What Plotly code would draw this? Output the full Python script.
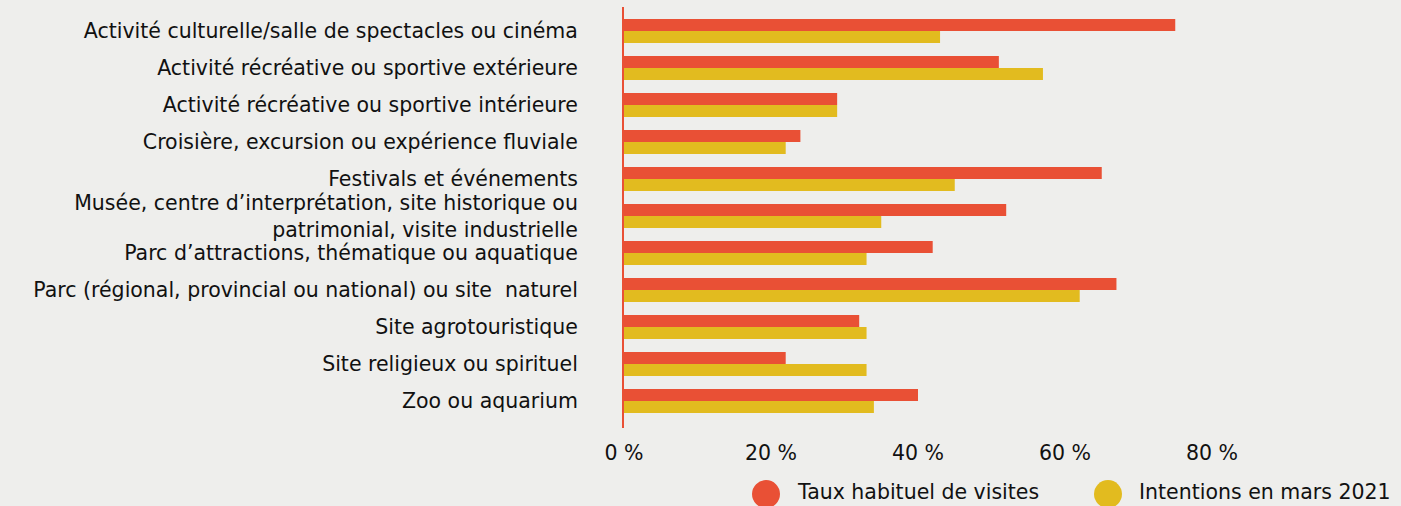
import plotly.graph_objects as go

categories = [
    "Activité culturelle/salle de spectacles ou cinéma",
    "Activité récréative ou sportive extérieure",
    "Activité récréative ou sportive intérieure",
    "Croisière, excursion ou expérience fluviale",
    "Festivals et événements",
    "Musée, centre d’interprétation, site historique ou<br>patrimonial, visite industrielle",
    "Parc d’attractions, thématique ou aquatique",
    "Parc (régional, provincial ou national) ou site  naturel",
    "Site agrotouristique",
    "Site religieux ou spirituel",
    "Zoo ou aquarium",
]
series_names = ["Taux habituel de visites", "Intentions en mars 2021"]
taux_habituel = [75, 51, 29, 24, 65, 52, 42, 67, 32, 22, 40]
intentions_2021 = [43, 57, 29, 22, 45, 35, 33, 62, 33, 33, 34]
tick_values = [0, 20, 40, 60, 80]
tick_labels = ["0 %", "20 %", "40 %", "60 %", "80 %"]

RED = "#E95035"
YELLOW = "#E2BB1F"
BG = "#EEEEEC"
FONT = "DejaVu Sans"
FS = 20.5

fig = go.Figure()
fig.add_trace(go.Bar(y=categories, x=taux_habituel, orientation="h", name=series_names[0],
                     marker=dict(color=RED, line=dict(width=0)), showlegend=False))
fig.add_trace(go.Bar(y=categories, x=intentions_2021, orientation="h", name=series_names[1],
                     marker=dict(color=YELLOW, line=dict(width=0)), showlegend=False))

fig.update_layout(
    width=1401, height=506,
    margin=dict(l=624, r=42, t=7, b=78),
    paper_bgcolor=BG, plot_bgcolor=BG,
    barmode="group", bargap=0.35, bargroupgap=0,
    font=dict(family=FONT, size=FS, color="#111111"),
    xaxis=dict(range=[0, 100], tickvals=tick_values, ticktext=tick_labels,
               showgrid=False, zeroline=False, showline=False, ticks="",
               tickfont=dict(size=FS, color="#111111"), ticklabelstandoff=10),
    yaxis=dict(type="category", range=[10.73, -0.65], showgrid=False, zeroline=False,
               showline=True, linecolor=RED, linewidth=2, ticks="",
               tickfont=dict(size=FS, color="#111111"), ticklabelstandoff=40),
)

legend_x = [0.1932, 0.6585]
text_x = [0.2327, 0.698]
colors = [RED, YELLOW]
for i in range(2):
    fig.add_shape(type="circle", xref="paper", yref="paper",
                  xsizemode="pixel", ysizemode="pixel",
                  xanchor=legend_x[i], yanchor=-0.157,
                  x0=-14, x1=14, y0=-14, y1=14,
                  fillcolor=colors[i], line=dict(width=0))
    fig.add_annotation(xref="paper", yref="paper", x=text_x[i], y=-0.152,
                       text=series_names[i], showarrow=False, xanchor="left", yanchor="middle",
                       font=dict(family=FONT, size=FS, color="#111111"))

fig.write_html("out.html", config={"displayModeBar": False},
               post_script="document.body.style.margin='0px';document.body.style.overflow='hidden';")
